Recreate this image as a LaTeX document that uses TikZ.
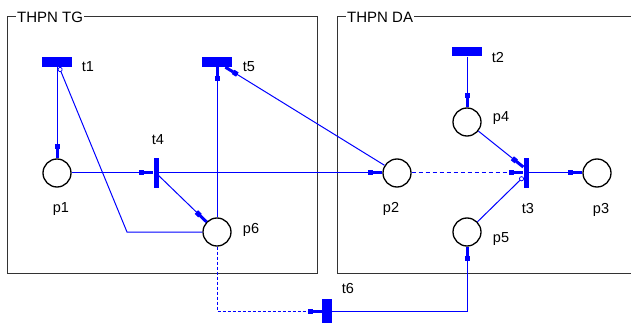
\documentclass[tikz,border=0pt]{standalone}
\usepackage{fontspec}
\setmainfont{Liberation Sans}
\usetikzlibrary{arrows.meta}
\definecolor{pnblue}{RGB}{0,0,255}
\begin{document}
\begin{tikzpicture}[x=1pt,y=-1pt,
  place/.style={circle,draw=black,line width=1.3pt,minimum size=28pt,inner sep=0pt},
  htrans/.style={rectangle,fill=pnblue,minimum width=30pt,minimum height=10pt,inner sep=0pt},
  vtrans/.style={rectangle,fill=pnblue,minimum width=5pt,minimum height=30pt,inner sep=0pt},
  lbl/.style={anchor=base,font=\fontsize{14.5}{16}\selectfont,inner sep=0pt},
  ttl/.style={anchor=base west,font=\fontsize{15}{17}\selectfont,fill=white,inner sep=1pt},
  pnarc/.style={draw=pnblue,color=pnblue,line width=1pt},
  pnarrow/.style={-{Rectangle[length=5pt,width=5pt]Rectangle[length=9pt,width=3pt]}},
  inh/.style={-{Circle[open,length=5pt,width=5pt,line width=0.8pt]}},
  dsh/.style={dash pattern=on 3pt off 2pt}]
\useasboundingbox (0,0) rectangle (631,323);
\clip (0,0) rectangle (631,323);
\fill[white] (0,0) rectangle (631,323);
% boxes
\draw[draw=black!80,line width=1pt] (7,17) rectangle (317,273);
\draw[draw=black!80,line width=1pt] (337,17) rectangle (645,273);
\node[ttl] (ttg) at (16,23) {THPN TG};
\node[ttl] (tda) at (346,23) {THPN DA};
% places
\node[place] (p1) at (57,173) {};
\node[place] (p6) at (217,232) {};
\node[place] (p2) at (397,173) {};
\node[place] (p4) at (467,122) {};
\node[place] (p5) at (467,232) {};
\node[place] (p3) at (597,173) {};
% transitions
\node[htrans] (t1) at (57,62) {};
\node[htrans] (t5) at (217,62) {};
\node[vtrans] (t4) at (156,173) {};
\node[htrans,minimum height=9pt] (t2) at (467,52) {};
\node[vtrans] (t3) at (526,173) {};
\node[vtrans,minimum width=10pt,minimum height=24pt] (t6) at (327,311) {};
% labels
\node[lbl] (lt1) at (88,72) {t1};
\node[lbl] (lt5) at (249,72) {t5};
\node[lbl] (lt4) at (158,145) {t4};
\node[lbl] (lp1) at (61,212) {p1};
\node[lbl] (lp6) at (251,233) {p6};
\node[lbl] (lt2) at (498,63) {t2};
\node[lbl] (lp4) at (501,122) {p4};
\node[lbl] (lp2) at (391,212) {p2};
\node[lbl] (lt3) at (528,213) {t3};
\node[lbl] (lp3) at (601,213) {p3};
\node[lbl] (lp5) at (501,242) {p5};
\node[lbl] (lt6) at (348,293) {t6};
% arcs
\coordinate (c1) at (127,232);
\draw[pnarc,pnarrow] (t1) -- (p1);
\draw[pnarc,pnarrow] (p1) -- (t4);
\draw[pnarc,pnarrow] (t4) -- (p2);
\draw[pnarc,pnarrow] (t4) -- (p6);
\draw[pnarc,pnarrow] (p6) -- (t5);
\draw[pnarc,pnarrow] (p2) -- (t5);
\draw[pnarc,inh] (p6) -- (c1) -- (t1);
\draw[pnarc,pnarrow] (t2) -- (p4);
\draw[pnarc,pnarrow] (p4) -- ([yshift=6pt]t3.west);
\draw[pnarc,pnarrow,dash pattern=on 4pt off 3pt] (p2) -- (t3);
\draw[pnarc,inh] (p5) -- ([yshift=-4pt]t3.west);
\draw[pnarc,pnarrow] (t3) -- (p3);
\draw[pnarc,pnarrow,dsh] (p6) |- (t6);
\draw[pnarc,pnarrow] (t6) -| (p5);
\end{tikzpicture}
\end{document}
